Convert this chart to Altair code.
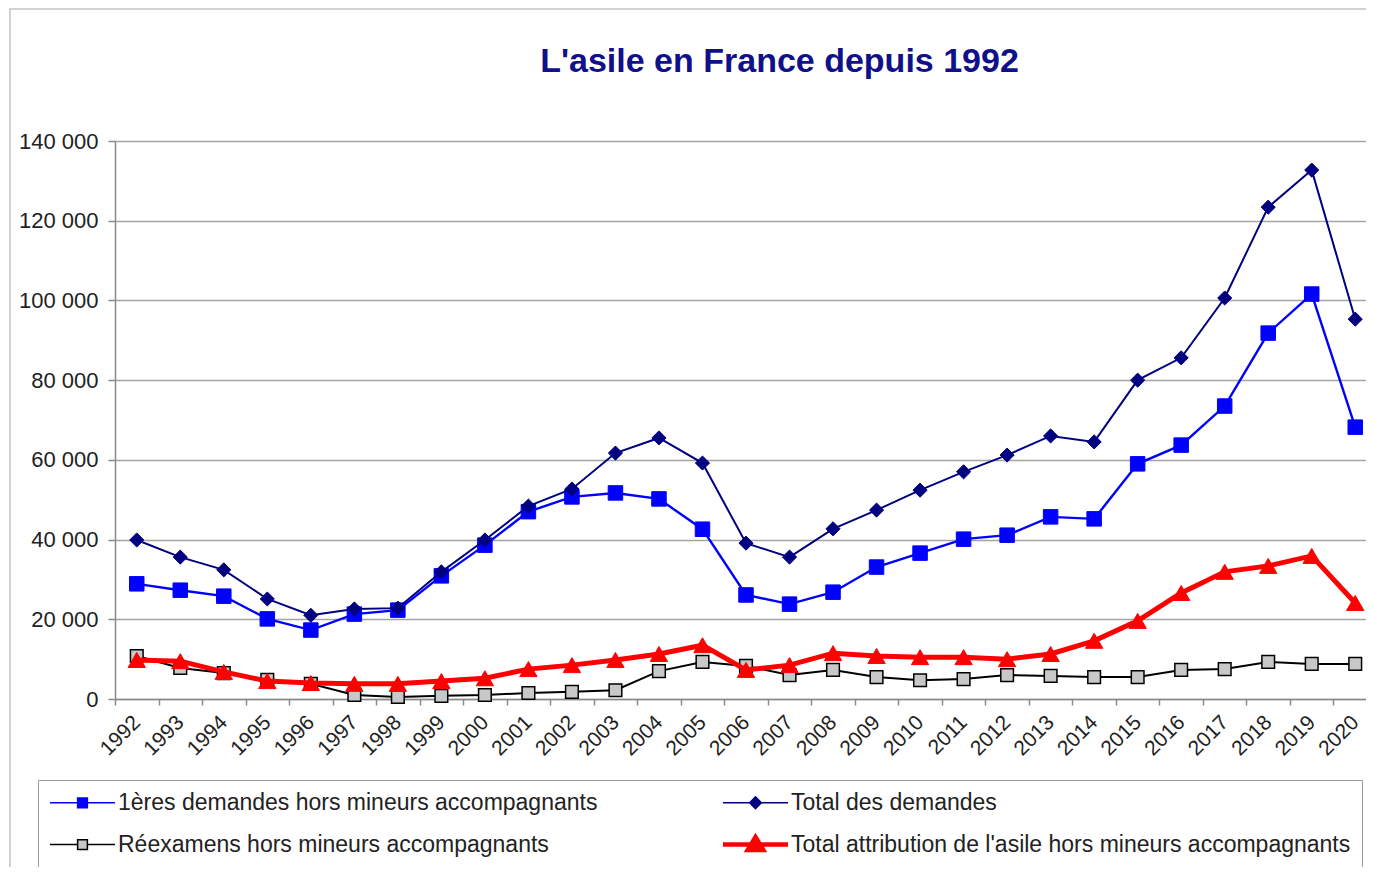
import altair as alt
import pandas as pd

years = [str(y) for y in range(1992, 2021)]
premieres = [28900, 27300, 25800, 20100, 17300, 21300, 22300, 30900, 38600, 47000,
             50700, 51700, 50200, 42600, 26100, 23800, 26800, 33100, 36600, 40100,
             41100, 45700, 45200, 59000, 63700, 73500, 91800, 101600, 68200]
total = [39900, 35600, 32400, 25100, 21000, 22600, 22800, 31900, 39900, 48400,
         52700, 61700, 65500, 59200, 39100, 35600, 42700, 47400, 52400, 57000,
         61200, 66000, 64500, 80000, 85600, 100600, 123400, 132700, 95300]
reexamens = [10800, 7800, 6500, 4800, 3800, 1000, 500, 800, 1000, 1500,
             1800, 2200, 7000, 9300, 8300, 6000, 7300, 5500, 4700, 5000,
             6000, 5800, 5500, 5500, 7300, 7500, 9300, 8800, 8800]
attribution = [9800, 9500, 6800, 4500, 4000, 3800, 3800, 4500, 5200, 7500,
               8500, 9800, 11300, 13500, 7300, 8500, 11500, 10800, 10500, 10500,
               10000, 11300, 14600, 19600, 26600, 31900, 33400, 35900, 24100]

S1 = "1ères demandes hors mineurs accompagnants"
S2 = "Total des demandes"
S3 = "Réexamens hors mineurs accompagnants"
S4 = "Total attribution de l'asile hors mineurs accompagnants"
series_names = [S1, S2, S3, S4]
series_values = [premieres, total, reexamens, attribution]

rows = []
for name, vals in zip(series_names, series_values):
    for yr, v in zip(years, vals):
        rows.append({"year": yr, "series": name, "value": v})
df = pd.DataFrame(rows)

FONT = "Liberation Sans"

paths = [
    "M-1,0H1M-0.15,-0.15H0.15V0.15H-0.15Z",
    "M-1,0H1M-0.18,0L0,-0.18L0.18,0L0,0.18Z",
    "M-1,0H-0.15M0.15,0H1M-0.15,-0.15H0.15V0.15H-0.15Z",
    "M-1,0H1M-0.24,0.17L0,-0.23L0.24,0.17Z",
]
widths = [1.5, 1.5, 1.5, 4.5]


def by_value(vals):
    def lit(v):
        return '"' + v + '"' if isinstance(v, str) else repr(v)
    expr = lit(vals[-1])
    for name, v in reversed(list(zip(series_names[:-1], vals[:-1]))):
        expr = 'datum.value === "' + name + '" ? ' + lit(v) + " : (" + expr + ")"
    return expr


legend = alt.Legend(
    title=None, orient="none", legendX=-77, legendY=639,
    direction="horizontal", columns=2, columnPadding=116, rowPadding=13,
    symbolSize=4225, symbolOffset=22, labelFontSize=23, labelFont=FONT,
    labelColor="#222222", labelLimit=1000, labelOffset=24, padding=11,
    strokeColor="#9a9a9a",
    symbolType=alt.ExprRef(by_value(paths)),
    symbolStrokeWidth=alt.ExprRef(by_value(widths)),
)

stroke_scale = alt.Scale(domain=series_names, range=["#0000ff", "#000080", "#000000", "#ff0000"])
fill_scale = alt.Scale(domain=series_names, range=["#0000ff", "#000080", "#c8c8c8", "#ff0000"])

x_enc = alt.X(
    "year:O",
    scale=alt.Scale(type="band", paddingInner=0, paddingOuter=0, range=[0, 1262]),
    bandPosition=0.5,
    title=None,
    axis=alt.Axis(
        tickBand="extent", labelAngle=315, labelAlign="right", labelBaseline="middle",
        labelFontSize=21, labelFont=FONT, labelColor="#222222", labelPadding=14,
        tickSize=6, tickColor="#8a8a8a", tickWidth=1.5, domainColor="#8a8a8a",
        domainWidth=1.5, grid=False, labelOverlap=False,
    ),
)
y_enc = alt.Y(
    "value:Q",
    scale=alt.Scale(domain=[0, 140000], nice=False),
    title=None,
    axis=alt.Axis(
        values=list(range(0, 140001, 20000)),
        labelExpr="replace(format(datum.value, ','), ',', ' ')",
        grid=True, gridColor="#a4a4a4", gridWidth=1.5,
        domainColor="#8a8a8a", domainWidth=1.5, tickColor="#8a8a8a", tickWidth=1.5,
        tickSize=7, labelFontSize=22, labelFont=FONT, labelColor="#222222",
        labelPadding=10,
    ),
)

line_widths = [2.4, 2, 2, 5]
point_shapes = ["square", "diamond", "square", "triangle-up"]
point_sizes = [210, 200, 160, 300]
point_sw = [1, 1, 1.5, 1]

# outer frame of the chart (decoration)
frame = alt.Chart(pd.DataFrame({"f": [0]})).mark_rect(
    fill=None, stroke="#c4c4c4", strokeWidth=1.5
).encode(
    x=alt.value(-105), x2=alt.value(1400), y=alt.value(-132), y2=alt.value(900)
)

layers = [frame]
for name, lw, shp, ps, psw in zip(series_names, line_widths, point_shapes, point_sizes, point_sw):
    base = alt.Chart(df).transform_filter(alt.datum.series == name)
    layers.append(
        base.mark_line(strokeWidth=lw).encode(
            x=x_enc, y=y_enc,
            stroke=alt.Stroke("series:N", scale=stroke_scale, legend=legend),
        )
    )
    layers.append(
        base.mark_point(shape=shp, size=ps, opacity=1, strokeWidth=psw, filled=False).encode(
            x=x_enc, y=y_enc,
            stroke=alt.Stroke("series:N", scale=stroke_scale, legend=legend),
            fill=alt.Fill("series:N", scale=fill_scale, legend=legend),
        )
    )

chart = alt.layer(*layers).properties(
    width=1251, height=558,
    title=alt.TitleParams(
        "L'asile en France depuis 1992", font=FONT, fontSize=34, fontWeight="bold",
        color="#10108a", anchor="middle", frame="group", dx=39, offset=-98,
        baseline="alphabetic",
    ),
    autosize=alt.AutoSizeParams(type="none"),
    padding={"left": 107, "top": 133, "right": 0, "bottom": 168},
).configure_view(stroke=None).configure(background="white")

chart.save("out.html", embed_options={"renderer": "svg", "actions": False})
